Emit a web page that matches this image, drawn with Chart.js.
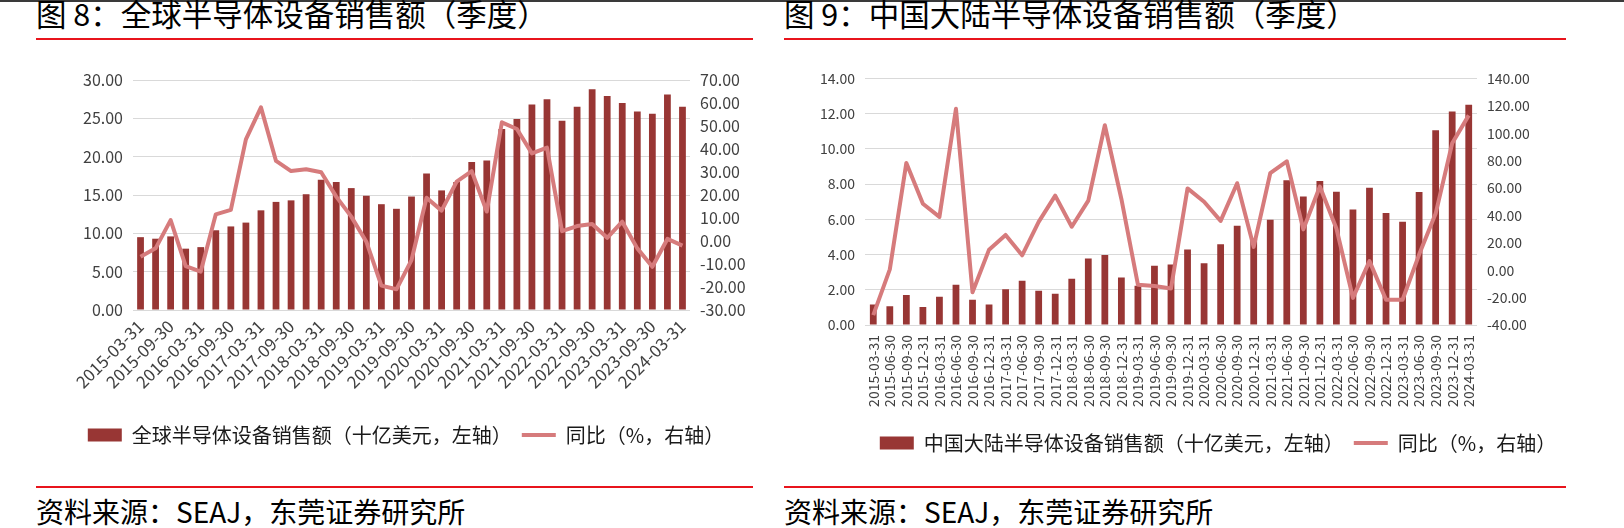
<!DOCTYPE html>
<html><head><meta charset="utf-8">
<script src="https://cdn.jsdelivr.net/npm/chart.js@4.4.0/dist/chart.umd.min.js"></script>
<style>
html,body{margin:0;padding:0;background:#fff;}
body{width:1624px;height:528px;position:relative;overflow:hidden;font-family:"Noto Sans CJK SC",sans-serif;}
.border{position:absolute;left:0;top:0;width:1624px;height:2px;background:#3a3a3a;}
.title{position:absolute;top:-2px;font-size:30.5px;line-height:30px;color:#000;white-space:nowrap;}
.rule{position:absolute;height:2px;background:#e8141c;}
.src{position:absolute;top:497px;font-size:28px;line-height:28px;color:#000;white-space:nowrap;}
.wrap{position:absolute;}
canvas{display:block;}
</style></head><body>
<div class="border"></div>
<div class="title" style="left:36px">图 8：全球半导体设备销售额（季度）</div>
<div class="title" style="left:784px">图 9：中国大陆半导体设备销售额（季度）</div>
<div class="rule" style="left:36px;width:717px;top:38px"></div>
<div class="rule" style="left:784px;width:782px;top:38px"></div>
<div class="wrap" style="left:0;top:60px;width:812px;height:395px"><canvas id="c1" width="812" height="395"></canvas></div>
<div class="wrap" style="left:812px;top:60px;width:812px;height:403px"><canvas id="c2" width="812" height="403"></canvas></div>
<div class="rule" style="left:36px;width:717px;top:486px"></div>
<div class="rule" style="left:784px;width:782px;top:486px"></div>
<div class="src" style="left:36px">资料来源：SEAJ，东莞证券研究所</div>
<div class="src" style="left:784px">资料来源：SEAJ，东莞证券研究所</div>
<script>
const quarters = ['2015-03-31','2015-06-30','2015-09-30','2015-12-31','2016-03-31','2016-06-30','2016-09-30','2016-12-31','2017-03-31','2017-06-30','2017-09-30','2017-12-31','2018-03-31','2018-06-30','2018-09-30','2018-12-31','2019-03-31','2019-06-30','2019-09-30','2019-12-31','2020-03-31','2020-06-30','2020-09-30','2020-12-31','2021-03-31','2021-06-30','2021-09-30','2021-12-31','2022-03-31','2022-06-30','2022-09-30','2022-12-31','2023-03-31','2023-06-30','2023-09-30','2023-12-31','2024-03-31'];

const globalSales = [9.5,9.3,9.6,8.0,8.2,10.4,10.9,11.4,13.0,14.1,14.3,15.1,17.0,16.7,15.9,14.9,13.8,13.2,14.8,17.8,15.6,16.7,19.3,19.5,23.6,24.9,26.8,27.5,24.7,26.5,28.8,27.9,27.0,25.9,25.6,28.1,26.5];
const globalYoY = [-6.8,-3.2,9.1,-10.9,-13.3,11.6,13.5,44.2,58.1,34.8,30.4,31.2,29.9,19.3,10.6,-0.3,-19.4,-21.0,-8.3,18.8,13.2,25.8,30.4,12.8,51.6,48.7,38.1,40.6,4.3,6.5,7.4,1.4,8.4,-3.2,-11.2,0.9,-2.0];

const chinaSales = [1.17,1.06,1.71,1.02,1.60,2.29,1.43,1.17,2.03,2.51,1.95,1.78,2.62,3.77,3.98,2.70,2.23,3.36,3.44,4.28,3.51,4.59,5.63,4.89,5.97,8.22,7.29,8.18,7.57,6.56,7.79,6.36,5.86,7.55,11.06,12.12,12.51];
const chinaYoY = [-32.8,0.6,78.3,48.5,38.9,117.8,-16.1,15.0,25.7,10.9,35.3,54.4,31.7,50.8,105.8,52.0,-10.6,-11.5,-13.3,59.7,50.0,36.0,63.5,17.0,70.8,79.5,29.8,61.1,30.5,-20.2,6.6,-21.6,-21.6,11.4,41.3,92.7,113.0];

const leftTicks1 = {min:0, max:30, step:5};
const rightTicks1 = {min:-30, max:70, step:10};
const leftTicks2 = {min:0, max:14, step:2};
const rightTicks2 = {min:-40, max:140, step:20};

const barName1 = '全球半导体设备销售额（十亿美元，左轴）';
const barName2 = '中国大陆半导体设备销售额（十亿美元，左轴）';
const lineName = '同比（%，右轴）';

const FONT = "'Noto Sans CJK SC', sans-serif";
const BAR_COLOR = '#983634';
const LINE_COLOR = '#d67b7c';
const GRID = '#d9d9d9';
const TICK = '#404040';

function makeChart(id, opts) {
  return new Chart(document.getElementById(id), {
    type: 'bar',
    data: {
      labels: quarters,
      datasets: [
        {type:'bar', label: opts.barName, data: opts.bars, backgroundColor: BAR_COLOR, borderWidth:0,
         barPercentage: opts.barPct, categoryPercentage: 1.0, yAxisID:'y', order:1, pointStyle:'rect'},
        {type:'line', label: lineName, data: opts.line, borderColor: LINE_COLOR, backgroundColor: LINE_COLOR,
         borderWidth:4, pointRadius:0, tension:0, borderJoinStyle:'round', yAxisID:'y1', order:0, pointStyle:'line'}
      ]
    },
    options: {
      responsive:false, animation:false,
      layout:{padding:{top:opts.padTop, left:0, right:0, bottom:0}},
      plugins:{
        tooltip:{enabled:false},
        legend:{position:'bottom', labels:{usePointStyle:true, pointStyleWidth:34, boxHeight:13, padding:10,
          color:'#1a1a1a', font:{size:20, family:FONT},
          sort:(a,b)=>a.datasetIndex-b.datasetIndex}}
      },
      scales:{
        x:{grid:{display:false, drawTicks:false}, border:{display:false},
           ticks:{autoSkip:false, minRotation:opts.rot, maxRotation:opts.rot, color:TICK, padding:opts.xPad,
                  font:{size:opts.xFont, family:FONT},
                  callback:(v,i)=> (i % opts.every === 0) ? quarters[i] : ''},
           afterFit:s=>{s.height = opts.xH;}},
        y:{position:'left', min:opts.lt.min, max:opts.lt.max,
           ticks:{stepSize:opts.lt.step, color:TICK, padding:10, font:{size:opts.yFont, family:FONT}, callback:v=>v.toFixed(2)},
           grid:{color:GRID, lineWidth:1, drawTicks:false}, border:{display:false},
           afterFit:s=>{s.width = opts.lW;}},
        y1:{position:'right', min:opts.rt.min, max:opts.rt.max,
           ticks:{stepSize:opts.rt.step, color:TICK, padding:10, font:{size:opts.yFont, family:FONT}, callback:v=>v.toFixed(2)},
           grid:{display:false, drawTicks:false}, border:{display:false},
           afterFit:s=>{s.width = opts.rW;}}
      }
    }
  });
}

makeChart('c1', {barName:barName1, bars:globalSales, line:globalYoY, barPct:0.45, padTop:20,
  rot:45, every:2, xPad:6, xFont:17, xH:105, yFont:16, lt:leftTicks1, rt:rightTicks1, lW:133, rW:122});
makeChart('c2', {barName:barName2, bars:chinaSales, line:chinaYoY, barPct:0.41, padTop:15,
  rot:90, every:1, xPad:10, xFont:14, xH:98, yFont:14, lt:leftTicks2, rt:rightTicks2, lW:53, rW:147});
</script>
</body></html>
